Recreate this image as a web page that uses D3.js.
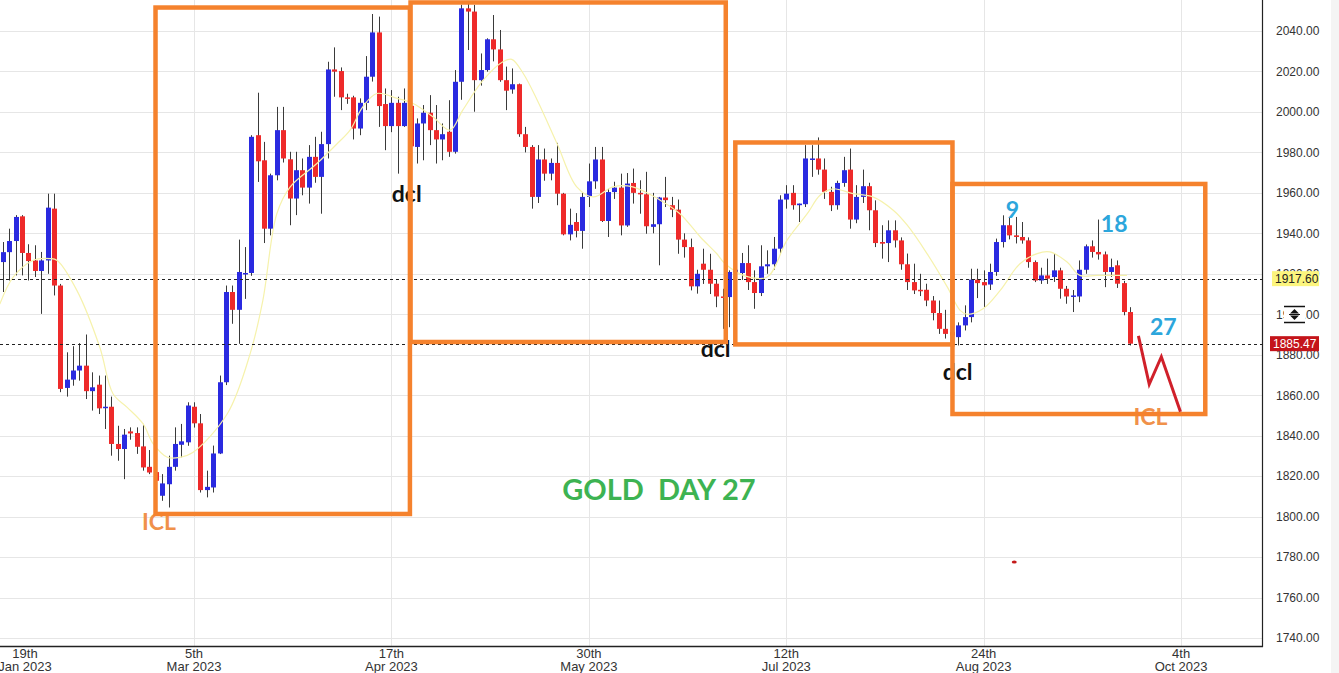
<!DOCTYPE html>
<html>
<head>
<meta charset="utf-8">
<script src="https://cdn.jsdelivr.net/npm/d3@7"></script>
<style>
html, body { margin: 0; padding: 0; background: #fff; }
svg { display: block; }
</style>
</head>
<body>
<script>
// daily gold candles (bar index 0..177)
var opens = [1925.8,1930.7,1936.2,1948.4,1930.3,1926.6,1921.4,1926.6,1952.2,1914.2,
	1863.6,1867.7,1872.2,1874.6,1862,1865.2,1854,1854.3,1835.9,1833.4,
	1842.1,1841.3,1834.7,1824.6,1822,1810.3,1816,1824.6,1835.5,1836.7,
	1854.3,1846.1,1813.1,1814.4,1831.2,1866.4,1911,1902.2,1919.8,1920.4,
	1988.5,1976.1,1942.3,1968.7,1991,1976.6,1957.2,1971.2,1962.6,1977.8,
	1967.9,1984.1,2021,2020.2,2007.2,2007.2,1991.8,2004.5,2017.4,2039.3,
	2003.9,1993,2004.5,1993,2003,1982.7,1994.3,1999.6,1991,1986.4,
	1990.2,1980.3,2014.9,2051.2,2049.6,2015.7,2020.7,2035.9,2030.9,2015.7,
	2011.1,2013.7,1989,1982.7,1958,1976.5,1969.5,1974.8,1959.6,1939.5,
	1945.6,1941.2,1958,1965.7,1976.5,1946.1,1960.4,1962.6,1943.9,1964.9,
	1960,1959.3,1943.2,1944.5,1957.7,1953.9,1951.7,1936.9,1933.2,1913.8,
	1925,1922,1915.1,1908.8,1908.5,1920.9,1920.4,1925.3,1915.9,1910.5,
	1923.7,1924.7,1932.4,1956.7,1960,1953.9,1954.4,1976.5,1977,1971.5,
	1960.5,1953.9,1964.9,1971.5,1946.8,1958,1963.3,1951.4,1935.7,1935.2,
	1941.5,1936.5,1924.7,1915.9,1912.1,1912.1,1906.8,1900.6,1892.8,1891.2,
	1888.7,1894.5,1898.6,1917.1,1915.9,1914.7,1920.9,1935.7,1944,1939,
	1938.2,1936.5,1925.8,1916.7,1919.2,1918.4,1921.7,1912.6,1908.8,1908.8,
	1922,1933.6,1930.8,1929.6,1920.9,1924.2,1915.4,1901.1];
var highs = [1935.7,1942.3,1949,1949,1934.6,1934.1,1930.8,1959.6,1959.6,1915,
	1881.2,1884.2,1885.7,1890,1871.3,1869.7,1869.7,1859.3,1844.9,1843.3,
	1844.1,1844.1,1845.8,1832.9,1825,1821,1830.1,1844.1,1845.8,1856.5,
	1856.5,1850.7,1822.7,1835.1,1869.7,1914.2,1914.2,1936.9,1933.2,1988.5,
	2009.5,1985.2,1969.5,2002.5,2002.5,1980.3,1980.3,1977,1983.6,1987.7,
	1990.2,2024.8,2031.9,2022,2009,2008,2006.7,2027.6,2048.4,2047.1,
	2011.6,2010.8,2007.5,2011.6,2006,1996.8,2003.4,2008.3,2003.4,1994.3,
	2005.8,2020.7,2053,2053.7,2052.9,2028.9,2036.4,2047.9,2040.5,2022.4,
	2021.5,2014,1992.6,1983.6,1983.6,1981.9,1977,1984.7,1960,1952.2,
	1950,1960,1974.5,1982.7,1982.7,1962,1965.5,1969.5,1969.8,1972,
	1966.2,1970.4,1960,1958,1967.9,1958,1956.7,1940,1937.4,1922,
	1932.4,1929.9,1917,1912.6,1921.7,1926,1930.3,1934.1,1921.7,1934.1,
	1931.6,1938.2,1958.8,1963.8,1963.8,1954.7,1983.6,1983.6,1987.4,1977,
	1963,1966,1977.8,1981.9,1963.8,1971.5,1965,1956.3,1944,1946.4,
	1946.4,1938,1930,1925,1920,1915.1,1909,1906.8,1902.2,1893.6,
	1896,1904.4,1922.5,1922.5,1921.7,1925,1937.4,1948.9,1948.1,1948.1,
	1945.6,1938,1926.6,1923,1927.5,1929.9,1923,1914,1912,1926.6,
	1934.5,1936.5,1946.8,1931,1927.5,1926.6,1916.5,1903.5];
var lows = [1911,1916.7,1919.2,1919.2,1916.7,1918.4,1900.2,1920,1909.3,1861.5,
	1859.3,1864.7,1867.2,1858.1,1852.4,1850.7,1843.3,1830.1,1827.6,1818.5,
	1838,1831,1822.7,1821,1815,1807.8,1804.5,1822.7,1829.3,1835,
	1844,1811.9,1809.5,1811.9,1830.9,1865,1895.3,1885.4,1907.6,1919,
	1965.4,1935.2,1939,1966.2,1975,1944,1949,1958.8,1954.7,1965,
	1949.7,1977,2007.5,2000.9,2004,1986.4,1988.5,2000.9,2015,1992.6,
	1981.1,1990,1969.5,1992.6,1978,1974.5,1976.1,1983.6,1974.5,1976.1,
	1977.8,1979.4,2006,2030.6,2000.1,2013,2019.9,2025,2014.9,2000.9,
	2009,1987.7,1980,1952.2,1955,1966,1966.2,1953.9,1939,1936.5,
	1938,1932.4,1953,1962,1945.6,1938.2,1957,1939,1943.2,1954.7,
	1949.7,1939.8,1940,1924.2,1953,1948,1929.9,1928,1911.8,1910.2,
	1915,1910,1903.5,1892.8,1893.6,1914,1917,1912,1902.7,1909,
	1920,1922,1930,1952.2,1951.7,1945.6,1953,1967.9,1969,1957,
	1951,1951.7,1963,1942.3,1945,1955,1941.5,1933.2,1927.5,1925.8,
	1933,1922,1912,1910,1909,1904,1897,1890.3,1888,1886.7,
	1884.6,1892,1896,1908,1903.5,1912,1919,1933,1937,1935,
	1934.9,1923,1915.9,1915,1915,1916,1907.7,1905.2,1901.1,1906,
	1920,1928,1927,1913.4,1918.5,1913,1899.5,1884.6];
var closes = [1930.7,1936.2,1948.1,1930.3,1926.3,1921.4,1926.6,1952.7,1914.2,1863.1,
	1867.7,1872.2,1874.6,1862,1863.9,1853.5,1854.3,1835.9,1833.4,1840.5,
	1841.1,1834.5,1824.3,1821.8,1817.7,1816.4,1824.6,1835.9,1837.2,1854.9,
	1846.1,1813.1,1814.7,1831.2,1866.4,1911,1902.2,1920.9,1920.4,1987.7,
	1975.6,1942.3,1968.7,1991,1977,1957.2,1971.2,1962.6,1977.8,1967.9,
	1984.1,2021,2019.9,2007.2,2006.7,1991.8,2004.5,2017.4,2039.3,2002.9,
	1993,2004.5,1993,2004.5,1983,1994.3,1999.6,1991,1986.4,1989,
	1980.3,2014.9,2051.2,2049.6,2015.7,2020.7,2035.9,2030.9,2015.7,2010.5,
	2013.7,1989,1982.7,1958,1976.5,1969.5,1974.8,1959.6,1939.5,1944.2,
	1941.2,1958,1965.7,1976.5,1946.1,1960.4,1962.6,1943.9,1964.6,1960,
	1959.3,1943.5,1944.5,1957.7,1956.4,1951.7,1936.9,1933.2,1913.8,1920,
	1922,1915.1,1908.8,1908.2,1920.9,1922,1925.3,1915.9,1910.5,1923.7,
	1924.7,1932.4,1956.7,1959.6,1953.9,1954.7,1977,1977,1971.5,1960.5,
	1953.9,1964.9,1971.2,1946.8,1958,1963.3,1951.4,1935.2,1934.9,1941.5,
	1936.5,1924.7,1915.9,1911.8,1911.5,1906.8,1900.6,1892.8,1890.3,1889.5,
	1894.5,1898.6,1917.1,1915.4,1914.3,1920.9,1935.7,1944,1939,1938.2,
	1936.5,1925.8,1916.7,1919.2,1917.6,1921.7,1912.6,1908.8,1909.3,1922,
	1933.6,1930.8,1929.6,1920.9,1923.3,1915.1,1901.1,1885.47];

// moving average as drawn (bar index, price)
var maIdx = [-0.5,1.6,4.7,7.4,8.5,11.6,15.2,17.3,19.5,22,23.6,25.8,27.8,29.8,35.2,38.8,40.8,43,45.1,49.3,
	52.5,54.5,56.5,58.7,61.9,64.4,67.5,70.2,72.2,75.4,78.5,79.9,81.7,83.9,87,90.1,92.7,95.8,98.9,103.2,
	106.3,109.5,112.1,113.4,116.5,120,123.1,126.3,128.3,130.3,133.5,136.6,139.8,142,145.1,148.3,150.3,151.4,153.9,156.6,
	159.7,162.4,164.4,167.1,169.1,171.8,176.5];
var maVal = [1905,1918.4,1926.6,1927.5,1926.6,1911.8,1883.7,1860.6,1854,1845.8,1835.9,1829.3,1829.3,1831.7,1850.7,1880.4,1906.8,1949.7,1963,1974.5,
	1984.4,1991,2002.5,2009.1,2006.7,2004.2,1997.6,1991,2000.9,2015.7,2024.8,2026,2019,2005.8,1984.4,1963,1958,1963,1963,1956.4,
	1949.7,1938.2,1929.9,1925,1919,1918.4,1936.5,1949.7,1958.8,1962,1959.6,1958,1951.4,1944,1930,1913.4,1901.9,1900,1902.7,1911.8,
	1925,1930,1930.8,1925.8,1919.2,1919.2,1919.2];

// axis ticks
var yTicks = [1740,1760,1780,1800,1820,1840,1860,1880,1900,1920,1940,1960,1980,2000,2020,2040];
var xTickIdx = [-1,30,61,92,123,154,185];
var xTickDay = ["19th","5th","17th","30th","12th","24th","4th"];
var xTickMonth = ["Jan 2023","Mar 2023","Apr 2023","May 2023","Jul 2023","Aug 2023","Oct 2023"];

// price lines
var levelVals = [1917.60, 1885.47];

// annotation boxes (bar index / price)
var boxI0 = [23.95, 64.0, 115.0, 149.1];
var boxI1 = [63.9, 113.5, 149.1, 188.8];
var boxTop = [2051.6, 2054.1, 1984.9, 1964.4];
var boxBot = [1801.3, 1886.3, 1885.1, 1850.7];

// annotation texts
var noteText = ["dcl","dcl","dcl","ICL","ICL","9","18","27"];
var noteKind = ["dcl","dcl","dcl","icl","icl","num","num","num"];
var noteI = [63.4, 111.9, 149.9, 24.5, 180.2, 158.5, 174.5, 182.2];
var noteP = [1955.5, 1878.9, 1867.5, 1793.4, 1845.3, 1947.6, 1940.7, 1889.8];

// projected path
var zigI = [178.3, 180.0, 181.9, 184.9];
var zigP = [1889.3, 1865.4, 1879.0, 1851.8];

var W = 1339, H = 673;
var plotR = 1262, plotB = 646;

var svg = d3.select("body").append("svg")
	.attr("width", W)
	.attr("height", H);

svg.append("rect").attr("width", W).attr("height", H).attr("fill", "#fff");
svg.append("rect").attr("x", 1331).attr("width", W - 1331).attr("height", H).attr("fill", "#f4f4f4");

var x = d3.scaleLinear().domain([0, 177]).range([3, 3 + 177 * 6.368]);
var y = d3.scaleLinear().domain([1740, 2040]).range([638, 31]);

var plot = svg.append("g");
plot.append("clipPath").attr("id", "clip")
	.append("rect").attr("width", plotR).attr("height", plotB);

// grid
plot.selectAll(".hg").data(yTicks).enter().append("line")
	.attr("x1", 0).attr("x2", plotR)
	.attr("y1", function(d) { return Math.round(y(d)) + 0.5; })
	.attr("y2", function(d) { return Math.round(y(d)) + 0.5; })
	.attr("stroke", "#e6e6e6");
plot.selectAll(".vg").data(xTickIdx).enter().append("line")
	.attr("x1", function(d) { return Math.round(x(d)) + 0.5; })
	.attr("x2", function(d) { return Math.round(x(d)) + 0.5; })
	.attr("y1", 0).attr("y2", plotB)
	.attr("stroke", "#e6e6e6");

var data = d3.range(opens.length).map(function(i) {
	return {i: i, o: opens[i], h: highs[i], l: lows[i], c: closes[i]};
});

var cg = plot.append("g").attr("clip-path", "url(#clip)");

cg.selectAll(".wick").data(data).enter().append("line")
	.attr("x1", function(d) { return Math.round(x(d.i)) + 0.5; })
	.attr("x2", function(d) { return Math.round(x(d.i)) + 0.5; })
	.attr("y1", function(d) { return y(d.h); })
	.attr("y2", function(d) { return y(d.l); })
	.attr("stroke", "#3a3a3a")
	.attr("stroke-width", 1);

cg.selectAll(".body").data(data).enter().append("rect")
	.attr("x", function(d) { return Math.round(x(d.i)) - 2; })
	.attr("width", 5)
	.attr("y", function(d) { return y(Math.max(d.o, d.c)); })
	.attr("height", function(d) { return Math.max(1.5, Math.abs(y(d.o) - y(d.c))); })
	.attr("fill", function(d) { return d.c >= d.o ? "#2a2ae0" : "#ee2a2a"; });

// moving average
var maLine = d3.line()
	.x(function(d) { return x(d[0]); })
	.y(function(d) { return y(d[1]); })
	.curve(d3.curveCatmullRom);
cg.append("path")
	.datum(maIdx.map(function(d, k) { return [d, maVal[k]]; }))
	.attr("d", maLine)
	.attr("fill", "none")
	.attr("stroke", "#f6f2ac")
	.attr("stroke-width", 1.2);

// dashed price levels
plot.selectAll(".lvl").data(levelVals).enter().append("line")
	.attr("x1", 0).attr("x2", plotR)
	.attr("y1", function(d) { return Math.round(y(d)) + 0.5; })
	.attr("y2", function(d) { return Math.round(y(d)) + 0.5; })
	.attr("stroke", "#222")
	.attr("stroke-dasharray", "3,3");

// axes frame
svg.append("line").attr("x1", plotR + 0.5).attr("x2", plotR + 0.5).attr("y1", 0).attr("y2", plotB + 1)
	.attr("stroke", "#222").attr("stroke-width", 1.2);
svg.append("line").attr("x1", 0).attr("x2", plotR + 1).attr("y1", plotB + 0.5).attr("y2", plotB + 0.5)
	.attr("stroke", "#222").attr("stroke-width", 1.5);

// right axis
var yAxis = svg.append("g")
	.attr("transform", "translate(" + plotR + ",0)")
	.call(d3.axisRight(y).tickValues(yTicks).tickSize(0).tickPadding(14).tickFormat(d3.format(".2f")));
yAxis.select(".domain").remove();
yAxis.selectAll("text")
	.attr("font-family", "'Liberation Sans', Arial, sans-serif")
	.attr("font-size", 12)
	.attr("fill", "#333");

// bottom axis, two line labels
var xAxis = svg.append("g")
	.attr("transform", "translate(0," + plotB + ")")
	.call(d3.axisBottom(x).tickValues(xTickIdx).tickSize(0).tickFormat(""));
xAxis.select(".domain").remove();
xAxis.selectAll(".tick")
	.attr("transform", function(d) { return "translate(" + Math.max(x(d), 25) + ",0)"; })
	.select("text")
	.attr("font-family", "'Liberation Sans', Arial, sans-serif")
	.attr("font-size", 13)
	.attr("fill", "#333")
	.attr("text-anchor", "middle")
	.each(function(d, k) {
		var t = d3.select(this).attr("y", null).attr("dy", null);
		t.append("tspan").attr("x", 0).attr("y", 12).text(xTickDay[k]);
		t.append("tspan").attr("x", 0).attr("y", 25).text(xTickMonth[k]);
	});

// price tags
var tagCol = ["#fcf57e", "#c4141a"];
var tagTxt = ["#222", "#fff"];
var tagX = [1272, 1270];
var tags = svg.selectAll(".tag").data(levelVals).enter().append("g");
tags.append("rect")
	.attr("x", function(d, k) { return tagX[k]; })
	.attr("y", function(d) { return y(d) - 7.5; })
	.attr("width", function(d, k) { return 1319 - tagX[k]; })
	.attr("height", 15)
	.attr("fill", function(d, k) { return tagCol[k]; });
tags.append("text")
	.attr("x", function(d, k) { return tagX[k] + 3; })
	.attr("y", function(d) { return y(d); })
	.attr("dy", "0.35em")
	.attr("font-family", "'Liberation Sans', Arial, sans-serif")
	.attr("font-size", 12)
	.attr("fill", function(d, k) { return tagTxt[k]; })
	.text(function(d) { return d3.format(".2f")(d); });

// scale handle icon on the axis
var iy = Math.round(y(1900));
var icon = svg.append("g");
icon.append("rect").attr("x", 1284).attr("y", iy - 7).attr("width", 21).attr("height", 15).attr("fill", "#fff");
icon.append("line").attr("x1", 1284).attr("x2", 1305).attr("y1", iy - 7.5).attr("y2", iy - 7.5).attr("stroke", "#111").attr("stroke-width", 1.5);
icon.append("line").attr("x1", 1284).attr("x2", 1305).attr("y1", iy + 8.5).attr("y2", iy + 8.5).attr("stroke", "#111").attr("stroke-width", 1.5);
icon.append("path").attr("d", "M1294.5," + (iy - 5) + "l4.5,4.5h-9z").attr("fill", "#111");
icon.append("path").attr("d", "M1294.5," + (iy + 6) + "l4.5,-4.5h-9z").attr("fill", "#111");
icon.append("line").attr("x1", 1289).attr("x2", 1300).attr("y1", iy + 0.5).attr("y2", iy + 0.5).attr("stroke", "#111");

// title
svg.append("text")
	.attr("x", x(103))
	.attr("y", y(1808.2))
	.attr("text-anchor", "middle")
	.attr("font-family", "Lato, 'Open Sans', sans-serif")
	.attr("font-weight", "bold")
	.attr("font-size", 29)
	.attr("fill", "#3db352")
	.style("white-space", "pre")
	.text("GOLD  DAY 27");

// notes
var noteCol = {dcl: "#111", icl: "#f0914a", num: "#2ca6dc"};
svg.selectAll(".note").data(noteText).enter().append("text")
	.attr("x", function(d, k) { return x(noteI[k]); })
	.attr("y", function(d, k) { return y(noteP[k]); })
	.attr("text-anchor", "middle")
	.attr("font-family", "Lato, 'Open Sans', sans-serif")
	.attr("font-weight", "bold")
	.attr("font-size", 23)
	.attr("fill", function(d, k) { return noteCol[noteKind[k]]; })
	.text(function(d) { return d; });

// orange boxes
svg.selectAll(".box").data(boxI0).enter().append("rect")
	.attr("x", function(d) { return x(d); })
	.attr("y", function(d, k) { return y(boxTop[k]); })
	.attr("width", function(d, k) { return x(boxI1[k]) - x(d); })
	.attr("height", function(d, k) { return y(boxBot[k]) - y(boxTop[k]); })
	.attr("fill", "none")
	.attr("stroke", "#f5822d")
	.attr("stroke-width", 4.5);

// projected zigzag
svg.append("path")
	.datum(zigI.map(function(d, k) { return [d, zigP[k]]; }))
	.attr("d", d3.line().x(function(d) { return x(d[0]); }).y(function(d) { return y(d[1]); }))
	.attr("fill", "none")
	.attr("stroke", "#d0202a")
	.attr("stroke-width", 3);

// stray red dot
svg.append("ellipse")
	.attr("cx", x(158.8)).attr("cy", y(1777.6))
	.attr("rx", 2.5).attr("ry", 1.5)
	.attr("fill", "#c41a1a");
</script>
</body>
</html>
